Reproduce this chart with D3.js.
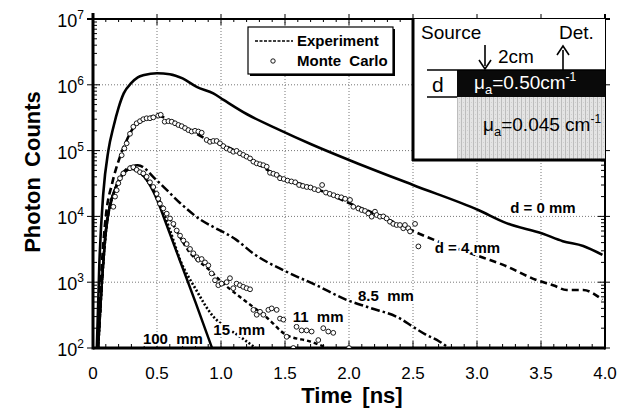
<!DOCTYPE html>
<html>
<head>
<meta charset="utf-8">
<script src="https://cdn.jsdelivr.net/npm/d3@7"></script>
<style>
  body { margin: 0; background: #fff; }
  svg { display: block; font-family: "Liberation Sans", Arial, Helvetica, sans-serif; }
</style>
</head>
<body>
<div id="chart"></div>
<script>
// ---- data: [time ns, photon counts] ----
const xTicks = [0, 0.5, 1, 1.5, 2, 2.5, 3, 3.5, 4];
const xTickLabels = ["0", "0.5", "1.0", "1.5", "2.0", "2.5", "3.0", "3.5", "4.0"];
const yExps = [2, 3, 4, 5, 6, 7];

// d = 0 mm (solid)
const d0 = [[0.03, 1e2], [0.05, 2e3], [0.08, 2.2e4], [0.12, 1e5], [0.16, 2.3e5], [0.2, 4.5e5],
  [0.24, 7.4e5], [0.3, 1.07e6], [0.35, 1.3e6], [0.4, 1.41e6], [0.5, 1.5e6], [0.6, 1.45e6],
  [0.7, 1.25e6], [0.81, 9.3e5], [0.94, 7.4e5], [1.02, 5.9e5], [1.2, 3.6e5], [1.46, 2.05e5],
  [1.7, 1.26e5], [2.0, 7.2e4], [2.5, 3.0e4], [3.01, 1.25e4], [3.23, 7.9e3], [3.51, 5.5e3],
  [3.67, 4.2e3], [3.83, 3.55e3], [3.98, 2.6e3]];

// d = 4 mm experiment (dashed)
const d4 = [[0.035, 1e2], [0.07, 2e3], [0.1, 1e4], [0.15, 3.2e4], [0.2, 7e4], [0.25, 1.25e5],
  [0.3, 2e5], [0.4, 2.95e5], [0.5, 3.4e5], [0.6, 2.9e5], [0.75, 2.1e5], [0.9, 1.45e5],
  [1.0, 1.25e5], [1.2, 8e4], [1.46, 4e4], [1.75, 2.6e4], [2.0, 1.6e4], [2.25, 1e4],
  [2.5, 6e3], [2.69, 4.2e3], [3.05, 2.35e3], [3.2, 1.85e3], [3.47, 1.07e3], [3.6, 890],
  [3.7, 760], [3.83, 760], [3.98, 540]];

// d = 4 mm Monte Carlo (circles)
const mc4 = [[0.224, 8.5e4], [0.245, 1.08e5], [0.263, 1.29e5], [0.289, 1.8e5], [0.315, 2.3e5],
  [0.341, 2.6e5], [0.367, 2.8e5], [0.393, 3.0e5], [0.419, 3.1e5], [0.445, 3.1e5], [0.471, 3.2e5],
  [0.51, 3.4e5], [0.529, 3.5e5], [0.56, 2.75e5], [0.589, 2.8e5], [0.615, 2.75e5], [0.641, 2.6e5],
  [0.667, 2.45e5], [0.693, 2.35e5], [0.719, 2.2e5], [0.745, 2.05e5], [0.771, 1.95e5], [0.797, 2.0e5],
  [0.823, 1.95e5], [0.849, 1.87e5], [0.888, 1.45e5], [0.914, 1.36e5], [0.94, 1.4e5], [0.966, 1.4e5],
  [0.992, 1.29e5], [1.018, 1.17e5], [1.044, 1.08e5], [1.07, 1.02e5], [1.096, 9.6e4], [1.122, 9.9e4],
  [1.148, 9.1e4], [1.174, 8.6e4], [1.2, 8.1e4], [1.227, 7.6e4], [1.253, 6.8e4], [1.279, 6.4e4],
  [1.305, 6.2e4], [1.331, 6.0e4], [1.357, 5.7e4], [1.383, 4.6e4], [1.409, 4.45e4], [1.435, 4.27e4],
  [1.461, 3.8e4], [1.49, 3.7e4], [1.52, 3.5e4], [1.55, 3.4e4], [1.58, 3.3e4], [1.61, 3.0e4],
  [1.64, 2.9e4], [1.67, 2.8e4], [1.70, 2.75e4], [1.73, 2.6e4], [1.76, 2.5e4], [1.79, 3.0e4],
  [1.82, 2.3e4], [1.85, 2.2e4], [1.88, 2.1e4], [1.91, 2.0e4], [1.94, 1.95e4], [1.97, 1.85e4],
  [2.008, 1.78e4], [2.034, 1.4e4], [2.073, 1.32e4], [2.099, 1.25e4], [2.125, 1.21e4], [2.151, 1.11e4],
  [2.177, 9.9e3], [2.203, 1.18e4], [2.216, 1.05e4], [2.242, 9.9e3], [2.268, 1.0e4], [2.294, 9.3e3],
  [2.32, 8.3e3], [2.346, 7.7e3], [2.372, 7.4e3], [2.398, 7.4e3], [2.424, 6.6e3], [2.437, 7.4e3],
  [2.463, 6.6e3], [2.477, 5.9e3], [2.516, 7.7e3], [2.542, 3.5e3]];

// 8.5 mm (dash-dot)
const d85 = [[0.04, 1e2], [0.07, 1e3], [0.1, 6.3e3], [0.14, 1.6e4], [0.2, 3.5e4], [0.27, 5.4e4],
  [0.35, 6e4], [0.5, 3.5e4], [0.68, 1.6e4], [0.84, 8.9e3], [0.94, 6.9e3], [1.12, 4.4e3],
  [1.25, 2.75e3], [1.51, 1.45e3], [1.75, 890], [1.98, 540], [2.16, 410], [2.4, 280],
  [2.5, 210], [2.6, 160], [2.7, 128], [2.78, 100]];

// 11 mm experiment (short dashes)
const d11 = [[0.04, 1e2], [0.07, 1e3], [0.1, 5.6e3], [0.13, 1.4e4], [0.17, 2.5e4], [0.22, 4e4],
  [0.3, 5.3e4], [0.4, 4.3e4], [0.5, 2e4], [0.6, 9.3e3], [0.76, 2.75e3], [0.9, 1.6e3],
  [1.02, 950], [1.2, 500], [1.35, 300], [1.51, 158], [1.7, 125], [1.83, 100]];

// 11 mm Monte Carlo (circles)
const mc11 = [[0.159, 1.4e4], [0.172, 2.0e4], [0.185, 2.5e4], [0.198, 3.2e4], [0.211, 3.8e4],
  [0.237, 4.5e4], [0.289, 5.4e4], [0.315, 5.6e4], [0.341, 5.1e4], [0.367, 4.7e4], [0.393, 4.5e4],
  [0.419, 4.0e4], [0.445, 3.3e4], [0.471, 2.8e4], [0.497, 2.2e4], [0.51, 1.85e4], [0.523, 1.56e4],
  [0.549, 1.32e4], [0.576, 1.1e4], [0.602, 9.3e3], [0.628, 7.7e3], [0.654, 6.1e3], [0.68, 5.1e3],
  [0.706, 4.3e3], [0.732, 3.8e3], [0.758, 3.2e3], [0.784, 2.75e3], [0.81, 2.4e3], [0.823, 2.2e3],
  [0.849, 2.25e3], [0.875, 2.0e3], [0.901, 1.8e3], [0.927, 1.36e3], [0.953, 1.07e3], [0.979, 900],
  [1.005, 950], [1.044, 1.0e3], [1.07, 1.15e3], [1.096, 810], [1.122, 950], [1.148, 900],
  [1.174, 850], [1.2, 810], [1.227, 780], [1.253, 380], [1.279, 320], [1.305, 355], [1.331, 320],
  [1.37, 380], [1.396, 400], [1.435, 380], [1.461, 280], [1.487, 270], [1.513, 148], [1.565, 100],
  [1.59, 210], [1.63, 185], [1.669, 185], [1.708, 178], [1.76, 132], [1.799, 200], [1.838, 178],
  [1.877, 170], [2.0, 100]];

// 15 mm (dotted)
const d15 = [[0.04, 1e2], [0.07, 1e3], [0.1, 5.6e3], [0.13, 1.4e4], [0.17, 2.5e4], [0.22, 4e4],
  [0.3, 5.3e4], [0.4, 4e4], [0.5, 2e4], [0.6, 6.3e3], [0.68, 2.2e3], [0.8, 800], [0.94, 300],
  [1.05, 200], [1.15, 148], [1.27, 100]];

// 100 mm (solid)
const d100 = [[0.04, 1e2], [0.07, 1e3], [0.1, 5.6e3], [0.13, 1.4e4], [0.17, 2.5e4], [0.22, 4e4],
  [0.3, 5.3e4], [0.4, 4e4], [0.5, 1.8e4], [0.56, 8.9e3], [0.68, 2.1e3], [0.8, 500], [0.93, 100]];

const curveLabels = [
  { text: "d = 0 mm", t: 3.26, c: 1.12e4 },
  { text: "d = 4 mm", t: 2.67, c: 2.8e3 },
  { text: "8.5  mm", t: 2.07, c: 520 },
  { text: "11  mm", t: 1.56, c: 250 },
  { text: "15  mm", t: 0.94, c: 160 },
  { text: "100  mm", t: 0.39, c: 115 }
];

// ---- layout ----
const W = 622, H = 408;
const x = d3.scaleLinear().domain([0, 4]).range([93, 605]);
const y = d3.scaleLog().domain([1e2, 1e7]).range([348, 19]);

const svg = d3.select("#chart").append("svg").attr("width", W).attr("height", H);

svg.append("defs").append("clipPath").attr("id", "plot")
  .append("rect").attr("x", 93).attr("y", 19).attr("width", 512).attr("height", 329);

// stipple for the lower layer of the inset
const pat = svg.select("defs").append("pattern").attr("id", "grain")
  .attr("width", 4).attr("height", 4).attr("patternUnits", "userSpaceOnUse");
pat.append("rect").attr("width", 4).attr("height", 4).attr("fill", "#e4e4e4");
pat.append("rect").attr("x", 1).attr("width", 1).attr("height", 4).attr("fill", "#bdbdbd");
pat.append("rect").attr("x", 3).attr("y", 2).attr("width", 1).attr("height", 1).attr("fill", "#cfcfcf");

// grid lines
const grid = svg.append("g").attr("stroke", "#777").attr("stroke-width", 1).attr("stroke-dasharray", "1,2");
grid.selectAll(".gx").data(xTicks.slice(1, -1)).enter().append("line")
  .attr("x1", d => x(d)).attr("x2", d => x(d)).attr("y1", y(1e7)).attr("y2", y(1e2));
grid.selectAll(".gy").data(yExps.slice(1, -1)).enter().append("line")
  .attr("x1", x(0)).attr("x2", x(4)).attr("y1", d => y(Math.pow(10, d))).attr("y2", d => y(Math.pow(10, d)));

// ticks
const minorX = d3.range(0, 41).map(i => i / 10);
const isMajor = d => Math.abs(d * 2 - Math.round(d * 2)) < 1e-6;
const ticks = svg.append("g").attr("stroke", "#000").attr("stroke-width", 1);
ticks.selectAll(".mxb").data(minorX).enter().append("line")
  .attr("x1", d => x(d)).attr("x2", d => x(d))
  .attr("y1", y(1e2)).attr("y2", d => y(1e2) - (isMajor(d) ? 7 : 4));
ticks.selectAll(".mxt").data(minorX).enter().append("line")
  .attr("x1", d => x(d)).attr("x2", d => x(d))
  .attr("y1", d => y(1e7) - (isMajor(d) ? 5 : 0))
  .attr("y2", d => y(1e7) + (isMajor(d) ? 6 : 3));
const minorY = [];
yExps.slice(0, -1).forEach(e => { for (let k = 2; k <= 9; k++) minorY.push(k * Math.pow(10, e)); });
ticks.selectAll(".myl").data(minorY).enter().append("line")
  .attr("x1", x(0)).attr("x2", x(0) + 4).attr("y1", d => y(d)).attr("y2", d => y(d));
ticks.selectAll(".myr").data(minorY).enter().append("line")
  .attr("x1", x(4)).attr("x2", x(4) - 4).attr("y1", d => y(d)).attr("y2", d => y(d));
ticks.selectAll(".Myl").data(yExps).enter().append("line")
  .attr("x1", x(0) - 6).attr("x2", x(0) + 7).attr("y1", d => y(Math.pow(10, d))).attr("y2", d => y(Math.pow(10, d)));
ticks.selectAll(".Myr").data(yExps).enter().append("line")
  .attr("x1", x(4) - 7).attr("x2", x(4) + 5).attr("y1", d => y(Math.pow(10, d))).attr("y2", d => y(Math.pow(10, d)));

// frame
svg.append("line").attr("x1", x(0) - 6).attr("x2", x(4) + 5).attr("y1", y(1e7)).attr("y2", y(1e7))
  .attr("stroke", "#000").attr("stroke-width", 2);
svg.append("line").attr("x1", x(0)).attr("x2", x(4)).attr("y1", y(1e2)).attr("y2", y(1e2))
  .attr("stroke", "#000").attr("stroke-width", 3);
svg.append("line").attr("x1", x(0)).attr("x2", x(0)).attr("y1", y(1e7) - 6).attr("y2", y(1e2) + 1.5)
  .attr("stroke", "#000").attr("stroke-width", 3);
svg.append("line").attr("x1", x(4)).attr("x2", x(4)).attr("y1", y(1e7) - 5).attr("y2", y(1e2) + 1.5)
  .attr("stroke", "#000").attr("stroke-width", 2);

// tick labels
svg.append("g").selectAll("text").data(xTicks).enter().append("text")
  .attr("x", d => x(d)).attr("y", 379).attr("text-anchor", "middle")
  .attr("font-size", 17).text((d, i) => xTickLabels[i]);
const yl = svg.append("g").selectAll("text").data(yExps).enter().append("text")
  .attr("x", 84).attr("y", d => y(Math.pow(10, d)) + 8).attr("text-anchor", "end")
  .attr("font-size", 18);
yl.append("tspan").text("10");
yl.append("tspan").attr("dy", -8).attr("font-size", 12).text(d => d);

// axis titles
svg.append("text").attr("x", 352).attr("y", 403).attr("text-anchor", "middle")
  .attr("font-size", 22).attr("font-weight", "bold").attr("word-spacing", 4).text("Time [ns]");
svg.append("text").attr("transform", "translate(40,172) rotate(-90)").attr("text-anchor", "middle")
  .attr("font-size", 22).attr("font-weight", "bold").attr("word-spacing", 4).text("Photon Counts");

// curves
const plot = svg.append("g").attr("clip-path", "url(#plot)");
const line = d3.line().x(d => x(d[0])).y(d => y(d[1])).curve(d3.curveMonotoneX);
const series = [
  { data: d0, dash: null, w: 2.6 },
  { data: d100, dash: null, w: 2.4 },
  { data: d15, dash: "2,2", w: 2.6 },
  { data: d11, dash: "4,3", w: 2.4 },
  { data: d85, dash: "9,3,2.5,3", w: 2.5 },
  { data: d4, dash: "7,4", w: 2.6 }
];
plot.selectAll("path.curve").data(series).enter().append("path")
  .attr("class", "curve")
  .attr("d", s => line(s.data))
  .attr("fill", "none").attr("stroke", "#000")
  .attr("stroke-width", s => s.w)
  .attr("stroke-dasharray", s => s.dash);

plot.selectAll("circle.mc").data(mc4.concat(mc11)).enter().append("circle")
  .attr("class", "mc")
  .attr("cx", d => x(d[0])).attr("cy", d => y(d[1])).attr("r", 2.4)
  .attr("fill", "#fff").attr("stroke", "#000").attr("stroke-width", 0.9);

// curve labels
const labs = svg.append("g").selectAll("g").data(curveLabels).enter().append("g");
labs.append("text").attr("x", d => x(d.t)).attr("y", d => y(d.c))
  .attr("font-size", 15).attr("font-weight", "bold")
  .attr("stroke", "#fff").attr("stroke-width", 4).attr("stroke-linejoin", "round")
  .style("white-space", "pre").text(d => d.text);
labs.append("text").attr("x", d => x(d.t)).attr("y", d => y(d.c))
  .attr("font-size", 15).attr("font-weight", "bold")
  .style("white-space", "pre").text(d => d.text);

// legend
const lg = svg.append("g");
lg.append("rect").attr("x", 250).attr("y", 29).attr("width", 145).attr("height", 47).attr("fill", "#000");
lg.append("rect").attr("x", 248).attr("y", 27).attr("width", 145).attr("height", 47)
  .attr("fill", "#fff").attr("stroke", "#000").attr("stroke-width", 1.2);
lg.append("line").attr("x1", 255).attr("x2", 293).attr("y1", 41).attr("y2", 41)
  .attr("stroke", "#000").attr("stroke-width", 1.6).attr("stroke-dasharray", "3,1.5");
lg.append("text").attr("x", 297).attr("y", 46).attr("font-size", 15).attr("font-weight", "bold").text("Experiment");
lg.append("circle").attr("cx", 273).attr("cy", 61).attr("r", 2.2)
  .attr("fill", "#fff").attr("stroke", "#000").attr("stroke-width", 0.9);
lg.append("text").attr("x", 297).attr("y", 66).attr("font-size", 15).attr("font-weight", "bold")
  .attr("word-spacing", 4).text("Monte Carlo");

// inset
const ins = svg.append("g");
ins.append("rect").attr("x", 413).attr("y", 19).attr("width", 192).attr("height", 141)
  .attr("fill", "#fff").attr("stroke", "none");
ins.append("rect").attr("x", 457).attr("y", 97).attr("width", 148).attr("height", 63).attr("fill", "url(#grain)");
ins.append("rect").attr("x", 457).attr("y", 70).attr("width", 148).attr("height", 27).attr("fill", "#0a0a0a");
ins.append("line").attr("x1", 427).attr("x2", 605).attr("y1", 70).attr("y2", 70).attr("stroke", "#000").attr("stroke-width", 1.5);
ins.append("line").attr("x1", 427).attr("x2", 457).attr("y1", 97).attr("y2", 97).attr("stroke", "#000").attr("stroke-width", 1.5);
ins.append("line").attr("x1", 413).attr("x2", 413).attr("y1", 19).attr("y2", 161).attr("stroke", "#000").attr("stroke-width", 3);
ins.append("line").attr("x1", 412).attr("x2", 605).attr("y1", 160).attr("y2", 160).attr("stroke", "#000").attr("stroke-width", 3);
ins.append("text").attr("x", 421).attr("y", 39).attr("font-size", 19).text("Source");
ins.append("text").attr("x", 559).attr("y", 39).attr("font-size", 19).text("Det.");
ins.append("text").attr("x", 498).attr("y", 63).attr("font-size", 19).text("2cm");
ins.append("text").attr("x", 432).attr("y", 92).attr("font-size", 21).text("d");
// arrows
ins.append("line").attr("x1", 485).attr("x2", 485).attr("y1", 45).attr("y2", 66).attr("stroke", "#000").attr("stroke-width", 1.6);
ins.append("path").attr("d", "M479,60 L485,69 L491,60").attr("fill", "none").attr("stroke", "#000").attr("stroke-width", 1.6);
ins.append("line").attr("x1", 563).attr("x2", 563).attr("y1", 50).attr("y2", 70).attr("stroke", "#000").attr("stroke-width", 1.6);
ins.append("path").attr("d", "M557,55 L563,46 L569,55").attr("fill", "none").attr("stroke", "#000").attr("stroke-width", 1.6);
// absorption coefficients
const mu1 = ins.append("text").attr("x", 474).attr("y", 89).attr("font-size", 19).attr("fill", "#fff");
mu1.append("tspan").text("μ");
mu1.append("tspan").attr("dy", 5).attr("font-size", 13).text("a");
mu1.append("tspan").attr("dy", -5).text("=0.50cm");
mu1.append("tspan").attr("dy", -8).attr("font-size", 12).text("-1");
const mu2 = ins.append("text").attr("x", 483).attr("y", 131).attr("font-size", 19).attr("fill", "#000");
mu2.append("tspan").text("μ");
mu2.append("tspan").attr("dy", 5).attr("font-size", 13).text("a");
mu2.append("tspan").attr("dy", -5).text("=0.045 cm");
mu2.append("tspan").attr("dy", -8).attr("font-size", 12).text("-1");
</script>
</body>
</html>
